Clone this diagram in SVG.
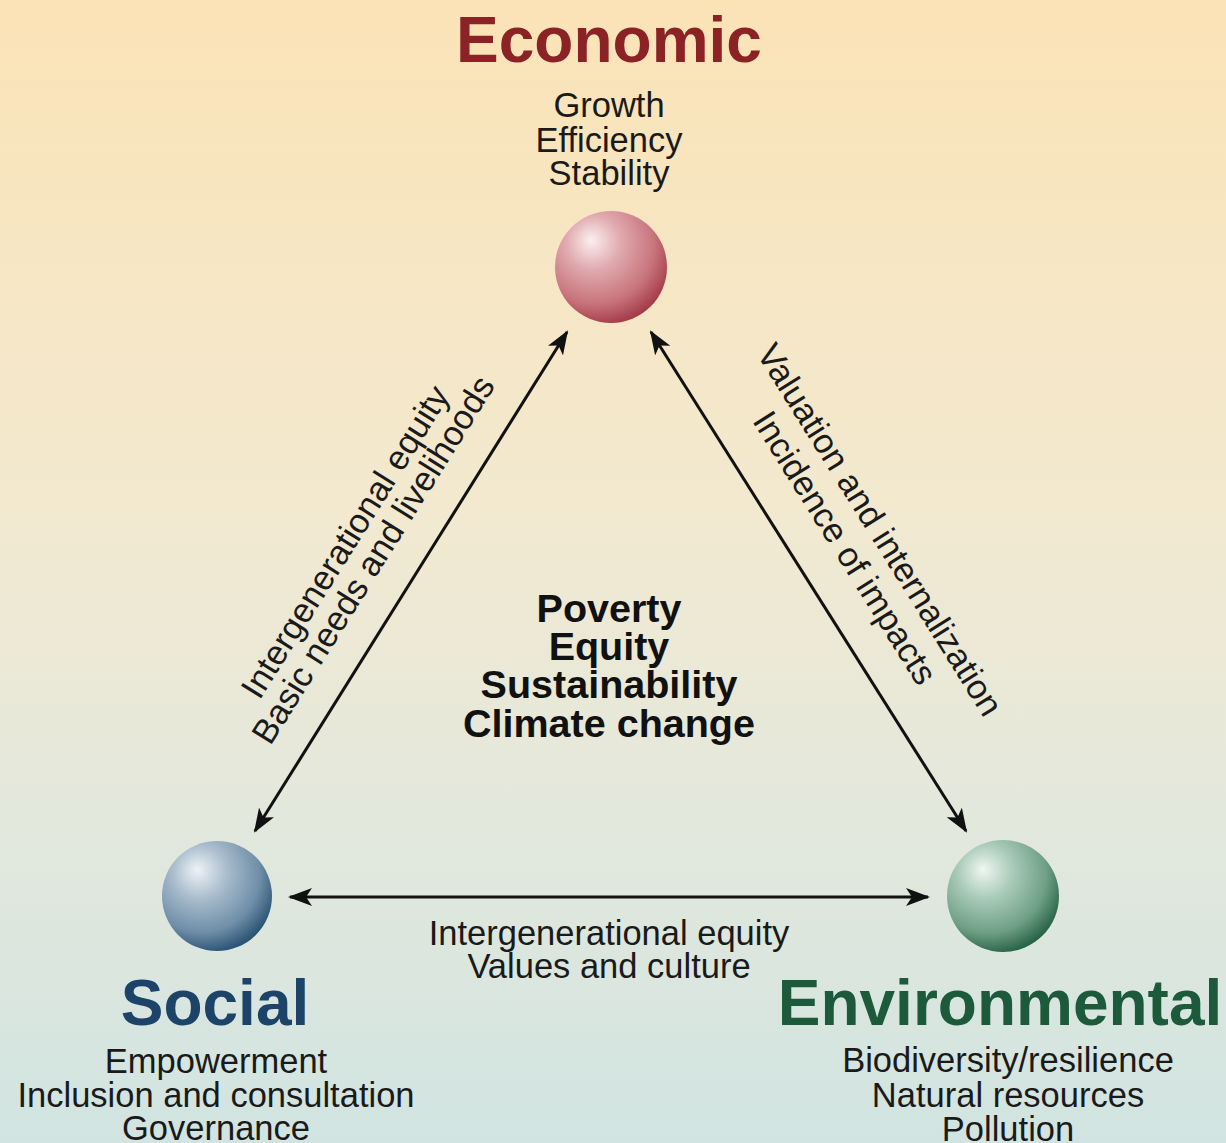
<svg xmlns="http://www.w3.org/2000/svg" width="1226" height="1143" viewBox="0 0 1226 1143">
  <defs>
    <linearGradient id="bg" x1="0" y1="0" x2="0" y2="1">
      <stop offset="0" stop-color="#FBE3B6"/>
      <stop offset="0.45" stop-color="#F2E9D0"/>
      <stop offset="0.7" stop-color="#E4E8DC"/>
      <stop offset="1" stop-color="#D1E4E1"/>
    </linearGradient>
    <radialGradient id="ballRed" cx="0.38" cy="0.32" r="0.7" fx="0.32" fy="0.26">
      <stop offset="0" stop-color="#FBEFF0"/>
      <stop offset="0.35" stop-color="#E0AAAF"/>
      <stop offset="0.75" stop-color="#C8737C"/>
      <stop offset="1" stop-color="#A53D48"/>
    </radialGradient>
    <radialGradient id="ballBlue" cx="0.38" cy="0.32" r="0.7" fx="0.32" fy="0.26">
      <stop offset="0" stop-color="#EEF3F7"/>
      <stop offset="0.35" stop-color="#A9BDCD"/>
      <stop offset="0.75" stop-color="#6F8EA8"/>
      <stop offset="1" stop-color="#2C5475"/>
    </radialGradient>
    <radialGradient id="ballGreen" cx="0.38" cy="0.32" r="0.7" fx="0.32" fy="0.26">
      <stop offset="0" stop-color="#F0F6F2"/>
      <stop offset="0.35" stop-color="#A9CBB8"/>
      <stop offset="0.75" stop-color="#6E9F85"/>
      <stop offset="1" stop-color="#2A6446"/>
    </radialGradient>
    <marker id="head" markerUnits="userSpaceOnUse" viewBox="0 0 24 18" markerWidth="24" markerHeight="18" refX="22" refY="9" orient="auto-start-reverse">
      <path d="M0,0 L24,9 L0,18 L6,9 z" fill="#111"/>
    </marker>
  </defs>
  <style>
    .title { font-family: "Liberation Sans", Arial, sans-serif; font-weight: bold; font-size: 64px; text-anchor: middle; }
    .sub { font-family: "Liberation Sans", Arial, sans-serif; font-size: 34.5px; fill: #1a1a1a; text-anchor: middle; }
    .core { font-family: "Liberation Sans", Arial, sans-serif; font-weight: bold; font-size: 39.5px; fill: #111; text-anchor: middle; }
    .link { fill: none; stroke: #111; stroke-width: 3; marker-start: url(#head); marker-end: url(#head); }
  </style>

  <rect x="0" y="0" width="1226" height="1143" fill="url(#bg)"/>

  <!-- connectors between the three pillars -->
  <g id="connectors">
    <line class="link" x1="255" y1="831" x2="567" y2="332"/>
    <line class="link" x1="651" y1="332" x2="966" y2="831"/>
    <line class="link" x1="290" y1="897" x2="928" y2="897"/>
    <text class="sub" transform="translate(355,548) rotate(-58)">Intergenerational equity</text>
    <text class="sub" transform="translate(383,566) rotate(-58)">Basic needs and livelihoods</text>
    <text class="sub" transform="translate(870,536) rotate(58)">Valuation and internalization</text>
    <text class="sub" transform="translate(835,554) rotate(58)">Incidence of impacts</text>
    <text class="sub" x="609" y="945">Intergenerational equity</text>
    <text class="sub" x="609" y="978">Values and culture</text>
  </g>

  <!-- Economic pillar -->
  <g id="economic">
    <text class="title" x="609" y="62" fill="#8B2226">Economic</text>
    <text class="sub" x="609" y="117">Growth</text>
    <text class="sub" x="609" y="152">Efficiency</text>
    <text class="sub" x="609" y="185">Stability</text>
    <circle cx="611" cy="267" r="56" fill="url(#ballRed)"/>
  </g>

  <!-- Social pillar -->
  <g id="social">
    <circle cx="217" cy="896" r="55" fill="url(#ballBlue)"/>
    <text class="title" x="215" y="1025" fill="#1D4468">Social</text>
    <text class="sub" x="216" y="1073">Empowerment</text>
    <text class="sub" x="216" y="1107">Inclusion and consultation</text>
    <text class="sub" x="216" y="1140">Governance</text>
  </g>

  <!-- Environmental pillar -->
  <g id="environmental">
    <circle cx="1003" cy="896" r="56" fill="url(#ballGreen)"/>
    <text class="title" x="1000" y="1025" fill="#1C5A3B">Environmental</text>
    <text class="sub" x="1008" y="1072">Biodiversity/resilience</text>
    <text class="sub" x="1008" y="1107">Natural resources</text>
    <text class="sub" x="1008" y="1141">Pollution</text>
  </g>

  <!-- shared concerns at the centre -->
  <g id="core">
    <text class="core" x="609" y="622">Poverty</text>
    <text class="core" x="609" y="660">Equity</text>
    <text class="core" x="609" y="698">Sustainability</text>
    <text class="core" x="609" y="737">Climate change</text>
  </g>
</svg>
